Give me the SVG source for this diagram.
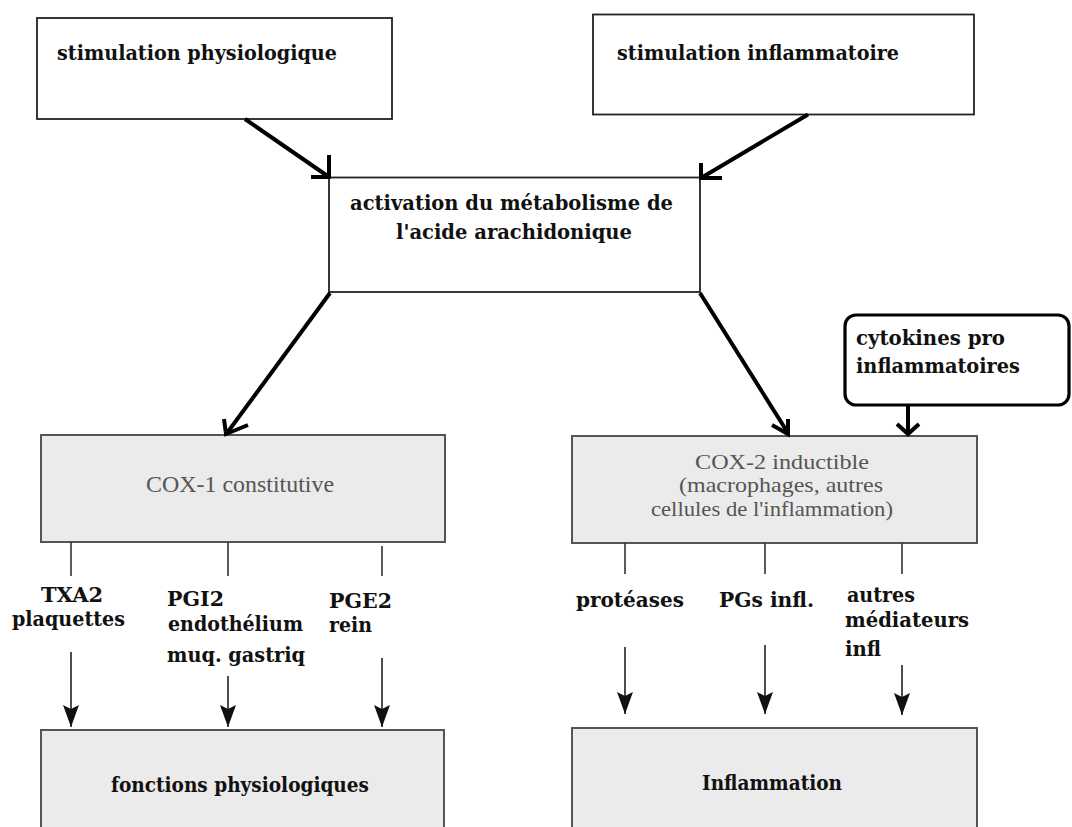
<svg xmlns="http://www.w3.org/2000/svg" width="1072" height="827" viewBox="0 0 1072 827">
<style>
.box{fill:#ffffff;stroke:#222;stroke-width:1.8}
.gbox{fill:#ebebeb;stroke:#555;stroke-width:2}
.rbox{fill:#ffffff;stroke:#000;stroke-width:3.2}
.b{font-family:"DejaVu Serif","Liberation Serif",serif;font-weight:bold;font-size:21px;fill:#111}
.r{font-family:"Liberation Serif","Times New Roman",serif;font-size:24px;fill:#555}
.r2{font-family:"Liberation Serif","Times New Roman",serif;font-size:21.5px;fill:#555}
.thick{fill:none;stroke:#000;stroke-width:4;stroke-linecap:butt;stroke-linejoin:miter}
.thin{fill:none;stroke:#333;stroke-width:1.6}
.thinarrow{fill:none;stroke:#222;stroke-width:1.6;marker-end:url(#tri)}
</style>
<defs>
<marker id="tri" markerUnits="userSpaceOnUse" markerWidth="23" markerHeight="17" refX="22" refY="8" orient="auto" viewBox="0 0 23 16">
<path d="M0,0 L22,8 L0,16 L4,8 z" fill="#111"/>
</marker>
</defs>

<g id="stimulation-physiologique">
<rect class="box" x="37" y="18" width="355" height="101"/>
<text class="b" x="57" y="60" textLength="280" lengthAdjust="spacingAndGlyphs">stimulation physiologique</text>
</g>

<g id="stimulation-inflammatoire">
<rect class="box" x="593" y="14.5" width="381" height="100"/>
<text class="b" x="617" y="60" textLength="282" lengthAdjust="spacingAndGlyphs">stimulation inflammatoire</text>
</g>

<g id="activation">
<rect class="box" x="329" y="177.5" width="371" height="114.5"/>
<text class="b" x="350" y="210" textLength="323" lengthAdjust="spacingAndGlyphs">activation du métabolisme de</text>
<text class="b" x="396" y="239" textLength="236" lengthAdjust="spacingAndGlyphs">l'acide arachidonique</text>
</g>

<g id="cox1">
<rect class="gbox" x="41" y="435" width="404" height="107"/>
<text class="r" x="146" y="492" textLength="188" lengthAdjust="spacingAndGlyphs">COX-1 constitutive</text>
</g>

<g id="cox2">
<rect class="gbox" x="572" y="436" width="405" height="107"/>
<text class="r2" x="695" y="468.5" textLength="174" lengthAdjust="spacingAndGlyphs">COX-2 inductible</text>
<text class="r2" x="679" y="492" textLength="204" lengthAdjust="spacingAndGlyphs">(macrophages, autres</text>
<text class="r2" x="651" y="515.5" textLength="242" lengthAdjust="spacingAndGlyphs">cellules de l'inflammation)</text>
</g>

<g id="cytokines">
<rect class="rbox" x="845" y="315" width="224" height="90" rx="11" ry="11"/>
<text class="b" x="856" y="345" textLength="149" lengthAdjust="spacingAndGlyphs">cytokines pro</text>
<text class="b" x="856" y="373" textLength="164" lengthAdjust="spacingAndGlyphs">inflammatoires</text>
</g>

<g id="fonctions-physiologiques">
<rect class="gbox" x="41" y="730" width="403" height="130"/>
<text class="b" x="111" y="792" textLength="258" lengthAdjust="spacingAndGlyphs">fonctions physiologiques</text>
</g>

<g id="inflammation">
<rect class="gbox" x="572" y="728" width="405" height="130"/>
<text class="b" x="702" y="790" textLength="140" lengthAdjust="spacingAndGlyphs">Inflammation</text>
</g>

<g id="labels">
<text class="b" x="41" y="601.5" textLength="62" lengthAdjust="spacingAndGlyphs">TXA2</text>
<text class="b" x="12" y="626" textLength="113" lengthAdjust="spacingAndGlyphs">plaquettes</text>
<text class="b" x="167" y="606" textLength="57" lengthAdjust="spacingAndGlyphs">PGI2</text>
<text class="b" x="168" y="631" textLength="135" lengthAdjust="spacingAndGlyphs">endothélium</text>
<text class="b" x="167" y="662" textLength="138" lengthAdjust="spacingAndGlyphs">muq. gastriq</text>
<text class="b" x="329" y="607.5" textLength="63" lengthAdjust="spacingAndGlyphs">PGE2</text>
<text class="b" x="329" y="632" textLength="43" lengthAdjust="spacingAndGlyphs">rein</text>
<text class="b" x="576" y="607" textLength="108" lengthAdjust="spacingAndGlyphs">protéases</text>
<text class="b" x="719" y="607" textLength="95" lengthAdjust="spacingAndGlyphs">PGs infl.</text>
<text class="b" x="847" y="602" textLength="68" lengthAdjust="spacingAndGlyphs">autres</text>
<text class="b" x="845" y="627" textLength="124" lengthAdjust="spacingAndGlyphs">médiateurs</text>
<text class="b" x="845" y="656" textLength="36" lengthAdjust="spacingAndGlyphs">infl</text>
</g>

<g id="connectors">
<line class="thick" x1="245" y1="119" x2="329" y2="177"/>
<polyline class="thick" points="329,155 329,177 311,177"/>
<line class="thick" x1="808" y1="114.5" x2="701" y2="178"/>
<polyline class="thick" points="701,163 701,178 722,178"/>
<line class="thick" x1="330" y1="293" x2="227" y2="433"/>
<polyline class="thick" points="224,419 226,434 248,425"/>
<line class="thick" x1="700" y1="293" x2="788" y2="433"/>
<polyline class="thick" points="772,425 788,434 788,419"/>
<line class="thick" x1="908" y1="405" x2="908" y2="433"/>
<polyline class="thick" points="897,424 908,434 919,424"/>
<line class="thin" x1="71" y1="542" x2="71" y2="576"/>
<line class="thin" x1="228" y1="542" x2="228" y2="576"/>
<line class="thin" x1="382" y1="546" x2="382" y2="576"/>
<line class="thin" x1="625" y1="543" x2="625" y2="574"/>
<line class="thin" x1="765" y1="543" x2="765" y2="574"/>
<line class="thin" x1="902" y1="543" x2="902" y2="574"/>
<line class="thinarrow" x1="71" y1="652" x2="71" y2="727"/>
<line class="thinarrow" x1="228" y1="676" x2="228" y2="727"/>
<line class="thinarrow" x1="382" y1="658" x2="382" y2="727"/>
<line class="thinarrow" x1="625" y1="647" x2="625" y2="714"/>
<line class="thinarrow" x1="765" y1="645" x2="765" y2="714"/>
<line class="thinarrow" x1="902" y1="665" x2="902" y2="715"/>
</g>
</svg>
